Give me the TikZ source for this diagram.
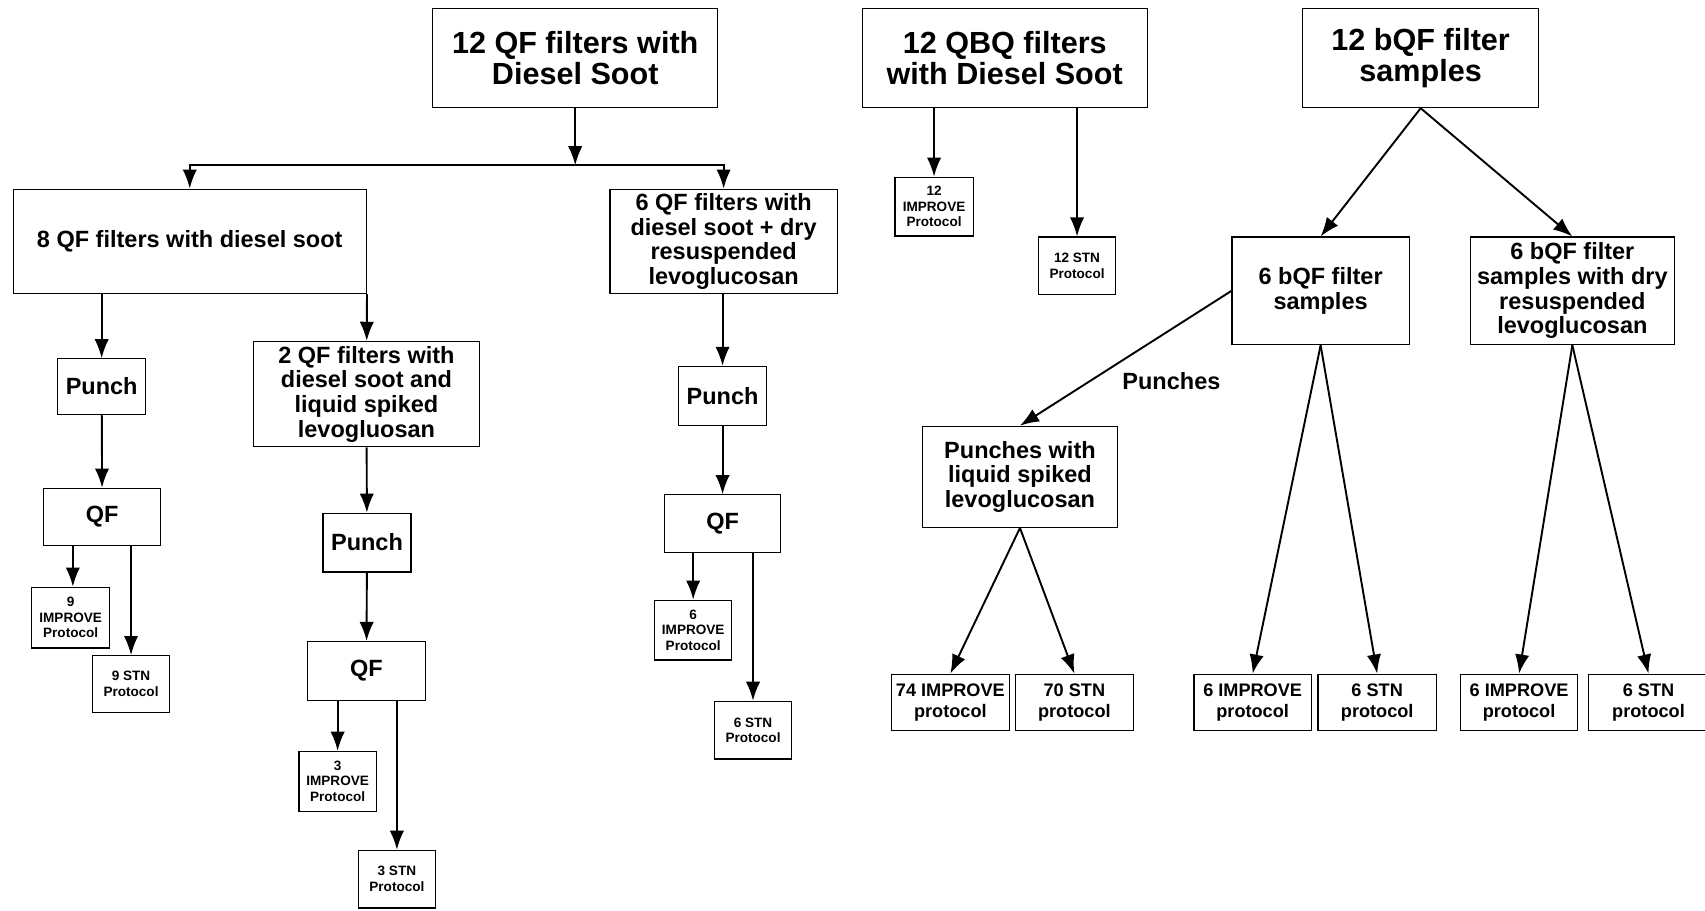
\documentclass[tikz,border=0pt]{standalone}
\usepackage{fontspec}
\setmainfont{Liberation Sans}
\usetikzlibrary{arrows.meta,positioning}

\begin{document}
\begin{tikzpicture}[x=0.02cm,y=-0.02cm,auto,>={Latex[length=10pt,width=7.5pt]},
  box/.style={draw,line width=0.6pt,align=center,inner sep=1pt},
  big/.style={font=\fontsize{16}{15.9}\selectfont\bfseries,minimum width=5.24cm,minimum height=1.82cm},
  mid/.style={font=\fontsize{12.3}{12.9}\selectfont\bfseries},
  small/.style={font=\fontsize{7.1}{8.2}\selectfont\bfseries,minimum width=1.42cm,minimum height=1.08cm},
  row/.style={font=\fontsize{9.5}{10.8}\selectfont\bfseries,minimum width=2.16cm,minimum height=1.04cm},
  link/.style={->,line width=1pt}]
        \useasboundingbox (0,0) rectangle (1568,837);
        \node[box,big] (top_qf) at (529,53.5) {12 QF filters with\\Diesel Soot};
        \node[box,big] (top_qbq) at (924,53.5) {12 QBQ filters\\with Diesel Soot};
        \node[box,big,minimum width=4.34cm] (top_bqf) at (1306.5,53.5) {12 bQF filter\\samples};
        \node[box,mid,minimum width=6.5cm,minimum height=1.92cm] (qf_8) at (174.5,222) {8 QF filters with diesel soot};
        \node[box,mid,minimum width=4.18cm,minimum height=1.92cm] (qf_6) at (665.5,222) {6 QF filters with\\diesel soot + dry\\resuspended\\levoglucosan};
        \node[box,mid,minimum width=1.62cm,minimum height=1.02cm] (punch_1) at (93.5,355.5) {Punch};
        \node[box,mid,minimum width=4.16cm,minimum height=1.94cm] (qf_2) at (337,362.5) {2 QF filters with\\diesel soot and\\liquid spiked\\levogluosan};
        \node[box,mid,minimum width=2.16cm,minimum height=1.06cm] (qf_a) at (94,475.5) {QF};
        \node[box,small,minimum width=1.44cm,minimum height=1.12cm] (imp_9) at (65,568) {9\\IMPROVE\\Protocol};
        \node[box,small,minimum height=1.04cm] (stn_9) at (120.5,629) {9 STN\\Protocol};
        \node[box,mid,minimum width=1.62cm,minimum height=1.08cm] (punch_2) at (337.5,499) {Punch};
        \node[box,mid,minimum width=2.16cm,minimum height=1.08cm] (qf_b) at (337,617) {QF};
        \node[box,small,minimum height=1.1cm] (imp_3) at (310.5,718.5) {3\\IMPROVE\\Protocol};
        \node[box,small,minimum height=1.06cm] (stn_3) at (365,808.5) {3 STN\\Protocol};
        \node[box,mid,minimum width=1.62cm,minimum height=1.08cm] (punch_3) at (664.5,364) {Punch};
        \node[box,mid,minimum width=2.14cm,minimum height=1.06cm] (qf_c) at (664.5,481.5) {QF};
        \node[box,small,minimum height=1.1cm] (imp_6) at (637.5,579.5) {6\\IMPROVE\\Protocol};
        \node[box,small,minimum height=1.06cm] (stn_6) at (692.5,671.5) {6 STN\\Protocol};
        \node[box,small,minimum width=1.44cm] (imp_12) at (859,190) {12\\IMPROVE\\Protocol};
        \node[box,small,minimum height=1.06cm] (stn_12) at (990.5,244.5) {12 STN\\Protocol};
        \node[box,mid,minimum width=3.26cm,minimum height=1.98cm] (bqf_6) at (1214.5,267.5) {6 bQF filter\\samples};
        \node[box,mid,minimum width=3.76cm,minimum height=1.98cm] (bqf_dry) at (1446,267.5) {6 bQF filter\\samples with dry\\resuspended\\levoglucosan};
        \node[box,mid,minimum width=3.6cm,minimum height=1.86cm] (liq) at (938,438.5) {Punches with\\liquid spiked\\levoglucosan};
        \node[box,row] (imp_74) at (874,646) {74 IMPROVE\\protocol};
        \node[box,row] (stn_70) [right=0.1cm of imp_74] {70 STN\\protocol};
        \node[box,row] (imp_6b) at (1152,646) {6 IMPROVE\\protocol};
        \node[box,row,minimum width=2.18cm] (stn_6b) [right=0.1cm of imp_6b] {6 STN\\protocol};
        \node[box,row] (imp_6d) at (1397,646) {6 IMPROVE\\protocol};
        \node[box,row,minimum width=2.2cm] (stn_6d) [right=0.18cm of imp_6d] {6 STN\\protocol};
        \coordinate (split) at (529,152);
        \draw[link] (top_qf) -- (split);
        \draw[link] (split) -| (qf_8);
        \draw[link] (split) -| (qf_6);
        \path[link] (punch_1 |- qf_8.south) edge (punch_1);
        \path[link] (qf_8.south east) edge (qf_2);
        \path[link] (punch_1) edge (qf_a);
        \path[link] ([xshift=0.04cm]imp_9 |- qf_a.south) edge ([xshift=0.04cm]imp_9.north);
        \path[link] (stn_9 |- qf_a.south) edge (stn_9);
        \path[link] (qf_2) edge (punch_2);
        \path[link] (punch_2) edge (qf_b);
        \path[link] (imp_3 |- qf_b.south) edge (imp_3);
        \path[link] (stn_3 |- qf_b.south) edge (stn_3);
        \path[link] (punch_3 |- qf_6.south) edge (punch_3);
        \path[link] (punch_3) edge (qf_c);
        \path[link] (imp_6 |- qf_c.south) edge (imp_6);
        \path[link] (stn_6 |- qf_c.south) edge (stn_6);
        \path[link] (imp_12 |- top_qbq.south) edge (imp_12);
        \path[link] (stn_12 |- top_qbq.south) edge (stn_12);
        \path[link] (top_bqf.south) edge (bqf_6.north);
        \path[link] (top_bqf.south) edge (bqf_dry.north);
        \path[link] (bqf_6.west) edge node[mid,pos=0.55] {Punches} (liq.north);
        \path[link] (liq.south) edge (imp_74.north);
        \path[link] (liq.south) edge (stn_70.north);
        \path[link] (bqf_6.south) edge (imp_6b.north);
        \path[link] (bqf_6.south) edge (stn_6b.north);
        \path[link] (bqf_dry.south) edge (imp_6d.north);
        \path[link] (bqf_dry.south) edge (stn_6d.north);
      \end{tikzpicture}
\end{document}
